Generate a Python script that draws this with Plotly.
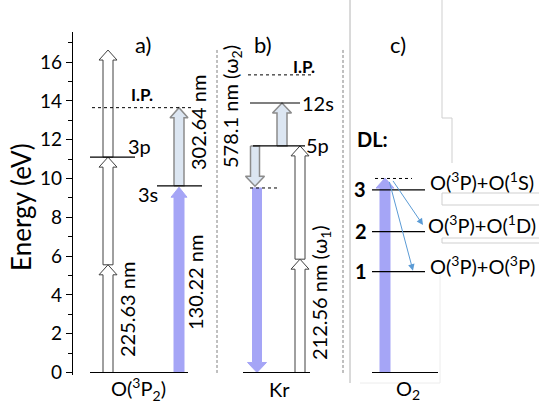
import plotly.graph_objects as go

# ---------------- data ----------------
# y-axis (energy, eV)
tick_vals = [0, 2, 4, 6, 8, 10, 12, 14, 16]
tick_text = ["0", "2", "4", "6", "8", "10", "12", "14", "16"]

# Panel a) O(3P2)
a_level_names = ["O(3P2)", "3s", "3p", "I.P."]
a_level_energy = [0.0, 9.62, 11.1, 13.65]
a_level_x0 = [90, 157, 90, 92]
a_level_x1 = [188, 202, 135, 193]
a_level_dash = ["solid", "solid", "solid", "dot"]
a_ladder_energy = [0.0, 5.55, 11.1, 16.62]      # 3 x 225.63 nm photons
a_ladder_x = 108
a_vuv_energy = [0.0, 9.55]                       # 130.22 nm
a_ion_energy = [9.62, 13.65]                     # 302.64 nm
a_vert_x = 179

# Panel b) Kr
b_level_names = ["Kr", "5p", "12s", "I.P.", "virtual"]
b_level_energy = [0.0, 11.68, 13.89, 15.34, 9.51]
b_level_x0 = [243, 253, 250, 248, 250]
b_level_x1 = [310, 305, 300, 312, 280]
b_level_dash = ["solid", "solid", "solid", "dot", "dot"]
b_ladder_energy = [0.0, 5.84, 11.68]             # 2 x 212.56 nm photons
b_ladder_x = 300
b_up_energy = [11.68, 13.89]                     # 578.1 nm up
b_up_x = 282
b_down_energy = [11.68, 9.6]                     # 578.1 nm down
b_down_x = 255
b_vuv_energy = [9.51, 0.0]                       # VUV emission
b_vuv_x = 257

# Panel c) O2
c_level_names = ["O2", "1", "2", "3", "virtual"]
c_level_energy = [0.0, 5.2, 7.26, 9.41, 10.0]
c_level_x0 = [372, 372, 372, 372, 375]
c_level_x1 = [438, 425, 425, 425, 412]
c_level_dash = ["solid", "solid", "solid", "solid", "dot"]
c_vuv_energy = [0.0, 10.02]
c_vuv_x = 385
c_diss_from_x = [392, 389]
c_diss_from_e = [9.95, 9.9]
c_diss_to_x = [423, 413]
c_diss_to_e = [7.6, 5.25]
c_products = ["O(<sup>3</sup>P)+O(<sup>1</sup>S)",
              "O(<sup>3</sup>P)+O(<sup>1</sup>D)",
              "O(<sup>3</sup>P)+O(<sup>3</sup>P)"]

# ---------------- styling ----------------
W, H = 539, 403
L, T, B = 73, 32, 28
PW, PH = W - L, H - T - B
PX_PER_EV = 19.4
Y0_PX = 372.5
FONT = "Lato, 'Open Sans', sans-serif"
BLUE = "#a5a5f6"
LIGHT = "#dce6f2"
LIGHT_EDGE = "#8c8c8c"
WHITE_EDGE = "#404040"


def ev(ypx):
    return (Y0_PX - ypx) / PX_PER_EV


def px2paper(x, y):
    return (x - L) / PW, (H - B - y) / PH


fig = go.Figure()


def block_arrow(xc, e0, e1, fill, edge, sw=5.0, hw=9.0, hh=10.0, ew=1.0):
    d = 1 if e1 > e0 else -1
    hb = e1 - d * hh / PX_PER_EV
    xs = [xc - sw, xc - sw, xc - hw, xc, xc + hw, xc + sw, xc + sw, xc - sw]
    ys = [e0, hb, hb, e1, hb, hb, e0, e0]
    fig.add_trace(go.Scatter(x=xs, y=ys, mode="lines", fill="toself",
                             fillcolor=fill, line=dict(color=edge, width=ew),
                             hoverinfo="skip", showlegend=False))


def levels(x0s, x1s, es, dashes):
    for x0, x1, e, d in zip(x0s, x1s, es, dashes):
        fig.add_trace(go.Scatter(x=[x0, x1], y=[e, e], mode="lines",
                                 line=dict(color="black", width=1.2 if d == "solid" else 1,
                                           dash=d),
                                 hoverinfo="skip", showlegend=False))


# separators (dashed)
for xs in (217, 343):
    fig.add_trace(go.Scatter(x=[xs, xs], y=[ev(50), -0.13], mode="lines",
                             line=dict(color="#808080", width=1, dash="3px,2px"),
                             hoverinfo="skip", showlegend=False))

# ---- panel a arrows ----
for i in range(len(a_ladder_energy) - 2, -1, -1):
    block_arrow(a_ladder_x, a_ladder_energy[i], a_ladder_energy[i + 1], "white", WHITE_EDGE)
block_arrow(a_vert_x, a_vuv_energy[0], a_vuv_energy[1], BLUE, BLUE, sw=5, hw=8)
block_arrow(a_vert_x, a_ion_energy[0], a_ion_energy[1], LIGHT, LIGHT_EDGE, sw=5, hw=9, ew=1.5)
levels(a_level_x0, a_level_x1, a_level_energy, a_level_dash)

# ---- panel b arrows ----
for i in range(len(b_ladder_energy) - 2, -1, -1):
    block_arrow(b_ladder_x, b_ladder_energy[i], b_ladder_energy[i + 1], "white", WHITE_EDGE)
block_arrow(b_vuv_x, b_vuv_energy[0], b_vuv_energy[1], BLUE, BLUE, sw=4.5, hw=9.5)
block_arrow(b_up_x, b_up_energy[0], b_up_energy[1], LIGHT, LIGHT_EDGE, sw=5, hw=9.5, ew=1.5)
block_arrow(b_down_x, b_down_energy[0], b_down_energy[1], LIGHT, LIGHT_EDGE, sw=4.5, hw=9.5, ew=1.5)
levels(b_level_x0, b_level_x1, b_level_energy, b_level_dash)

# ---- panel c ----
block_arrow(c_vuv_x, c_vuv_energy[0], c_vuv_energy[1], BLUE, BLUE, sw=5, hw=9)
levels(c_level_x0, c_level_x1, c_level_energy, c_level_dash)

annotations = []
for fx, fe, tx, te in zip(c_diss_from_x, c_diss_from_e, c_diss_to_x, c_diss_to_e):
    annotations.append(dict(x=tx, y=te, ax=fx, ay=fe, xref="x", yref="y",
                            axref="x", ayref="y", text="", showarrow=True,
                            arrowhead=2, arrowsize=1.3, arrowwidth=1,
                            arrowcolor="#5b9bd5"))


def txt(x, ypx, s, size=20, bold=False, angle=0):
    px, py = px2paper(x, ypx)
    annotations.append(dict(x=px, y=py, xref="paper", yref="paper",
                            text=(f"<b>{s}</b>" if bold else s),
                            showarrow=False, textangle=angle,
                            font=dict(family=FONT, size=size, color="black"),
                            xanchor="center", yanchor="middle"))


# axis title
txt(21, 207, "Energy (eV)", size=26, angle=-90)
# panel a
txt(143, 45, "a)", size=22)
txt(142, 94, "I.P.", size=17, bold=True)
txt(139, 146, "3p")
txt(148, 194, "3s")
txt(198, 123, "302.64 nm", angle=-90)
txt(195, 283, "130.22 nm", angle=-90)
txt(127, 310, "225.63 nm", angle=-90)
txt(138, 389, "O(<sup>3</sup>P<sub>2</sub>)")
# panel b
txt(263, 45, "b)", size=22)
txt(304, 66, "I.P.", size=17, bold=True)
txt(318, 103, "12s")
txt(317, 145, "5p")
txt(231, 107, "578.1 nm (ω<sub>2</sub>)", angle=-90)
txt(320, 293, "212.56 nm (ω<sub>1</sub>)", angle=-90)
txt(279, 389, "Kr")
# panel c
txt(398, 45, "c)", size=22)
txt(372, 139, "DL:", bold=True)
txt(360, 189, "3", bold=True)
txt(361, 231, "2", bold=True)
txt(361, 271, "1", bold=True)
txt(408, 389, "O<sub>2</sub>")
for s, ypx in zip(c_products, [181, 224, 265]):
    txt(482, ypx, s)

# faint decorative frame lines (paper coords)
shapes = []


def pline(x0, y0, x1, y1, color, width=1):
    a0, b0 = px2paper(x0, y0)
    a1, b1 = px2paper(x1, y1)
    shapes.append(dict(type="line", xref="paper", yref="paper", x0=a0, y0=b0, x1=a1, y1=b1,
                       line=dict(color=color, width=width), layer="below"))


pline(350, 0, 350, 383, "#b4b4b4")
for seg in [(442, 0, 442, 118), (442, 118, 452, 118), (452, 118, 452, 163),
            (442, 193, 539, 193), (442, 205, 539, 205), (442, 193, 442, 205),
            (442, 238, 539, 238), (442, 243, 539, 243), (442, 238, 442, 243)]:
    pline(*seg, "#cfcfcf")
for seg in [(360, 383, 440, 383), (440, 275, 440, 383)]:
    pline(*seg, "#ececec")

fig.update_layout(
    width=W, height=H,
    margin=dict(l=L, r=0, t=T, b=B, pad=0),
    paper_bgcolor="white", plot_bgcolor="white",
    showlegend=False,
    xaxis=dict(range=[L, W], visible=False, fixedrange=True),
    yaxis=dict(range=[-0.13, 17.55], tickvals=tick_vals, ticktext=tick_text,
               showgrid=False, zeroline=False, showline=True, linecolor="black",
               linewidth=1.3, ticks="outside", ticklen=6, tickwidth=1, tickcolor="black",
               minor=dict(dtick=1, ticks="outside", ticklen=4, tickcolor="black", tick0=0),
               tickfont=dict(family=FONT, size=19, color="black"), fixedrange=True),
    annotations=annotations,
    shapes=shapes,
)

fig.write_html("out.html", config={"displayModeBar": False},
               post_script="document.body.style.margin='0';document.body.style.overflow='hidden';")
